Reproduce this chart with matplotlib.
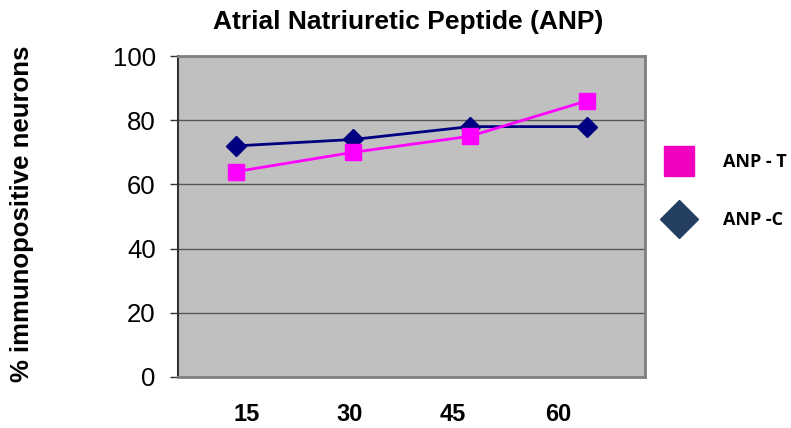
import matplotlib
matplotlib.use("Agg")
import matplotlib.pyplot as plt
from matplotlib.lines import Line2D
import matplotlib.transforms as mtransforms

categories = ["15", "30", "45", "60"]
anp_t = [64, 70, 75, 86]
anp_c = [72, 74, 78, 78]
y_ticks = [0, 20, 40, 60, 80, 100]

plt.rcParams['font.family'] = ['Liberation Sans', 'DejaVu Sans']

fig = plt.figure(figsize=(7.91, 4.28), dpi=100)
ax = fig.add_axes([178/791, 51/428, 467/791, 321/428])
ax.set_facecolor('#C0C0C0')

x = list(range(len(categories)))
ax.plot(x, anp_c, color='#000080', lw=2, marker='D', markersize=10, zorder=3)
ax.plot(x, anp_t, color='#FF00FF', lw=2, marker='s', markersize=11.5, zorder=4)

ax.set_xlim(-0.5, len(categories) - 0.5)
ax.set_ylim(0, 100)
ax.set_yticks(y_ticks)
ax.set_yticklabels([str(v) for v in y_ticks], fontsize=18.5)
ax.tick_params(axis='y', direction='out', length=6, width=1, color='#333333', pad=10)
ax.set_xticks([])
ax.yaxis.grid(True, color='#555555', lw=1)
ax.set_axisbelow(True)

for s in ['top', 'right', 'bottom']:
    ax.spines[s].set_color('#808080')
    ax.spines[s].set_linewidth(2)
ax.spines['left'].set_color('#333333')
ax.spines['left'].set_linewidth(1.5)

# category labels beneath the axis
label_pos = [0.148, 0.368, 0.589, 0.814]
trans = mtransforms.blended_transform_factory(ax.transAxes, ax.transAxes)
for lab, p in zip(categories, label_pos):
    ax.text(p, -0.118, lab, transform=trans, ha='center', va='center',
            fontsize=17, fontweight='bold')

ax.set_ylabel('% immunopositive neurons', fontsize=18.5, fontweight='bold')
ax.yaxis.set_label_coords(-(178 - 34) / 467, 0.509)
fig.text(408/791, 1 - 22/428, 'Atrial Natriuretic Peptide (ANP)', ha='center', va='center',
         fontsize=19, fontweight='bold')

handles = [
    Line2D([], [], linestyle='none', marker='s', markersize=22, color='#F200C0'),
    Line2D([], [], linestyle='none', marker='D', markersize=19, color='#243F60'),
]
leg = fig.legend(handles, ['ANP - T', 'ANP -C'], loc='center left',
                 bbox_to_anchor=(661/791, 1 - 191/428), frameon=False,
                 prop={'family': ['Open Sans', 'DejaVu Sans'], 'weight': 'bold', 'size': 13},
                 labelspacing=2.2, handletextpad=1.45, borderaxespad=0, borderpad=0)

fig.savefig('out.png', dpi=100)
